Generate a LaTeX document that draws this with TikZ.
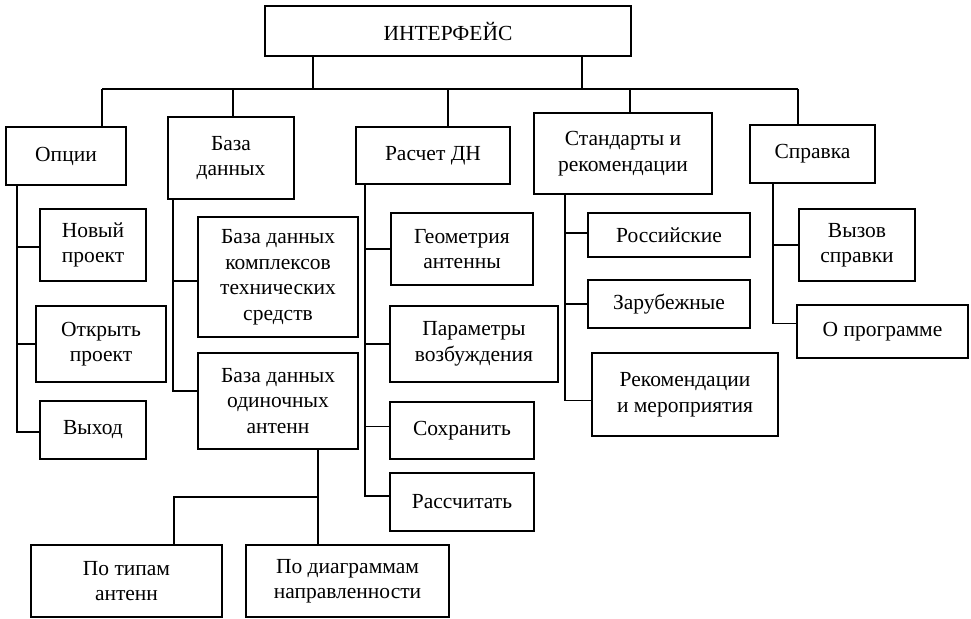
\documentclass[tikz,border=0pt]{standalone}
\usepackage{fontspec}
\setmainfont{Liberation Serif}
\begin{document}
\begin{tikzpicture}[x=1pt,y=-1pt,
  box/.style={draw, line width=1.8pt, inner sep=0pt, align=center,
    font=\fontsize{21.5}{25.5}\selectfont},
  conn/.style={line width=1.8pt}]
\useasboundingbox (0,0) rectangle (971,618);
% level 0
\node[box, minimum width=366pt, minimum height=50pt] (top) at (448,31) {ИНТЕРФЕЙС};
% level 1
\node[box, minimum width=120pt, minimum height=58pt] (opt) at (66,156) {Опции};
\node[box, minimum width=126pt, minimum height=82pt] (db) at (231,158) {База\\данных};
\node[box, minimum width=154pt, minimum height=57pt] (calc) at (433,155.5) {Расчет ДН};
\node[box, minimum width=178pt, minimum height=81pt] (std) at (623,153.5) {Стандарты и\\рекомендации};
\node[box, minimum width=125pt, minimum height=58pt] (help) at (812.5,154) {Справка};
% level 2
\node[box, minimum width=106pt, minimum height=72pt] (new) at (93,245) {Новый\\проект};
\node[box, minimum width=130pt, minimum height=76pt] (open) at (101,344) {Открыть\\проект};
\node[box, minimum width=106pt, minimum height=58pt] (exit) at (93,430) {Выход};
\node[box, minimum width=160pt, minimum height=120pt] (dbk) at (278,277) {База данных\\комплексов\\технических\\средств};
\node[box, minimum width=160pt, minimum height=96pt] (dbo) at (278,401) {База данных\\одиночных\\антенн};
\node[box, minimum width=142pt, minimum height=72pt] (geo) at (462,249) {Геометрия\\антенны};
\node[box, minimum width=168pt, minimum height=76pt] (par) at (474,344) {Параметры\\возбуждения};
\node[box, minimum width=144pt, minimum height=57pt] (save) at (462,430.5) {Сохранить};
\node[box, minimum width=144pt, minimum height=58pt] (calcb) at (462,502) {Рассчитать};
\node[box, minimum width=162pt, minimum height=44pt] (rus) at (669,235) {Российские};
\node[box, minimum width=162pt, minimum height=48pt] (for) at (669,304) {Зарубежные};
\node[box, minimum width=186pt, minimum height=83pt] (rec) at (685,394.5) {Рекомендации\\и мероприятия};
\node[box, minimum width=116pt, minimum height=72pt] (call) at (857,245) {Вызов\\справки};
\node[box, minimum width=171pt, minimum height=53pt] (about) at (882.5,331.5) {О программе};
% level 3
\node[box, minimum width=191pt, minimum height=72pt] (type) at (126.5,581) {По типам\\антенн};
\node[box, minimum width=203pt, minimum height=72pt] (diag) at (347.5,581) {По диаграммам\\направленности};
% top bus
\coordinate (busL) at (102,89);
\coordinate (busR) at (798,89);
\draw[conn] (busL) -- (busR);
\draw[conn] ([xshift=-135pt]top.south) -- ([xshift=-135pt]top.south |- busL);
\draw[conn] ([xshift=134pt]top.south) -- ([xshift=134pt]top.south |- busL);
\draw[conn] ([xshift=36pt]opt.north) -- ([xshift=36pt]opt.north |- busL);
\draw[conn] ([xshift=2pt]db.north) -- ([xshift=2pt]db.north |- busL);
\draw[conn] ([xshift=15pt]calc.north) -- ([xshift=15pt]calc.north |- busL);
\draw[conn] ([xshift=7pt]std.north) -- ([xshift=7pt]std.north |- busL);
\draw[conn] ([xshift=-14.5pt]help.north) -- ([xshift=-14.5pt]help.north |- busL);
% Опции
\coordinate (optT) at ([xshift=12pt]opt.south west);
\draw[conn] (optT) |- ([yshift=-2pt]exit.west);
\draw[conn] ([yshift=-2pt]new.west) -- ([yshift=-2pt]new.west -| optT);
\draw[conn] (open.west) -- (open.west -| optT);
% База данных
\coordinate (dbT) at ([xshift=6pt]db.south west);
\draw[conn] (dbT) |- ([yshift=10pt]dbo.west);
\draw[conn] ([yshift=-4pt]dbk.west) -- ([yshift=-4pt]dbk.west -| dbT);
% Расчет ДН
\coordinate (calcT) at ([xshift=10pt]calc.south west);
\draw[conn] (calcT) |- ([yshift=6pt]calcb.west);
\draw[conn] (geo.west) -- (geo.west -| calcT);
\draw[conn] (par.west) -- (par.west -| calcT);
\draw[conn] ([yshift=4pt]save.west) -- ([yshift=4pt]save.west -| calcT);
% Стандарты
\coordinate (stdT) at ([xshift=32pt]std.south west);
\draw[conn] (stdT) |- ([yshift=-6pt]rec.west);
\draw[conn] ([yshift=2pt]rus.west) -- ([yshift=2pt]rus.west -| stdT);
\draw[conn] (for.west) -- (for.west -| stdT);
% Справка
\coordinate (helpT) at ([xshift=24pt]help.south west);
\draw[conn] (helpT) |- ([yshift=8pt]about.west);
\draw[conn] (call.west) -- (call.west -| helpT);
% одиночных антенн
\coordinate (dboB) at ([xshift=40pt]dbo.south);
\coordinate (dboJ) at (318,497);
\draw[conn] (dboB) -- (dboB |- diag.north);
\draw[conn] (dboJ) -| ([xshift=47.5pt]type.north);
\end{tikzpicture}
\end{document}
